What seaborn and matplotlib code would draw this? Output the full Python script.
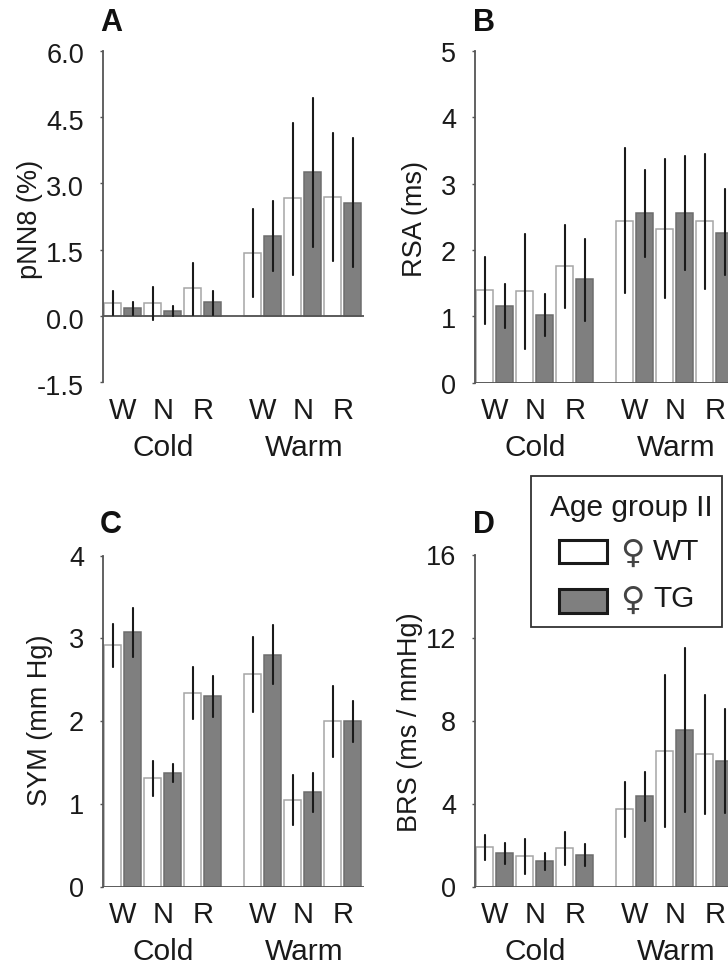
# four panel bar chart - cold vs warm, WT vs TG

import pandas as pd
import matplotlib
matplotlib.use('Agg')
import matplotlib.pyplot as plt
from matplotlib.patches import Rectangle
from matplotlib.transforms import ScaledTranslation
import seaborn as sns

sns.set_theme(style='white')
plt.rcParams['font.family'] = ['Liberation Sans', 'DejaVu Sans']
plt.rcParams['axes.unicode_minus'] = False

# order of every array: cold W/N/R then warm W/N/R, WT and TG alternating
stages = ['W', 'N', 'R', 'W', 'N', 'R']
genotypes = ['WT', 'TG']

pnn8_mean = [0.30, 0.18, 0.29, 0.11, 0.63, 0.31, 1.43, 1.82, 2.66, 3.26, 2.70, 2.56]
pnn8_hi = [0.57, 0.32, 0.66, 0.23, 1.19, 0.57, 2.43, 2.61, 4.37, 4.94, 4.13, 4.03]
pnn8_lo = [0.02, 0.03, -0.09, -0.01, 0.03, 0.03, 0.44, 1.02, 0.93, 1.57, 1.25, 1.10]

rsa_mean = [1.40, 1.15, 1.38, 1.02, 1.76, 1.56, 2.44, 2.56, 2.32, 2.56, 2.43, 2.26]
rsa_hi = [1.89, 1.49, 2.24, 1.33, 2.38, 2.17, 3.53, 3.21, 3.37, 3.41, 3.45, 2.92]
rsa_lo = [0.88, 0.82, 0.51, 0.71, 1.12, 0.93, 1.35, 1.90, 1.27, 1.70, 1.41, 1.62]

sym_mean = [2.92, 3.08, 1.31, 1.37, 2.34, 2.30, 2.57, 2.80, 1.05, 1.14, 2.00, 2.00]
sym_hi = [3.17, 3.37, 1.52, 1.48, 2.65, 2.55, 3.02, 3.16, 1.35, 1.38, 2.43, 2.25]
sym_lo = [2.66, 2.78, 1.10, 1.27, 2.03, 2.05, 2.11, 2.45, 0.75, 0.90, 1.57, 1.75]

brs_mean = [1.91, 1.61, 1.46, 1.22, 1.87, 1.53, 3.73, 4.36, 6.56, 7.57, 6.38, 6.08]
brs_hi = [2.49, 2.11, 2.28, 1.61, 2.65, 2.04, 5.07, 5.53, 10.23, 11.50, 9.26, 8.55]
brs_lo = [1.29, 1.11, 0.59, 0.82, 1.05, 1.00, 2.40, 3.18, 2.88, 3.62, 3.49, 3.57]

pnn8_ticks = [-1.5, 0.0, 1.5, 3.0, 4.5, 6.0]
rsa_ticks = [0, 1, 2, 3, 4, 5]
sym_ticks = [0, 1, 2, 3, 4]
brs_ticks = [0, 4, 8, 12, 16]

W, H = 728, 967
GRAY = '#7f7f7f'
DARK = '#555555'
INK = '#1a1a1a'

# one slot per bar, one empty slot between cold and warm
slots = [f'{i}-{g}' for i in range(3) for g in genotypes] + ['gap'] + \
        [f'{i}-{g}' for i in range(3, 6) for g in genotypes]
bar_slots = [s for s in slots if s != 'gap']


def panel(rect, mean, hi, lo, ticks, fmt, ylabel, letter, letter_xy, label_xy, num_shift):
    left, top, right, bottom = rect
    fig_rect = [left / W, 1 - bottom / H, (right - left) / W, (bottom - top) / H]
    ax = fig.add_axes(fig_rect, facecolor='none')

    df = pd.DataFrame({'slot': bar_slots, 'value': mean,
                       'group': [s.split('-')[1] for s in bar_slots]})
    sns.barplot(data=df, x='slot', y='value', hue='group', order=slots,
                hue_order=genotypes, palette={'WT': 'white', 'TG': GRAY},
                dodge=False, width=0.83, saturation=1, errorbar=None,
                legend=False, ax=ax)
    for cont, edge in zip(ax.containers, ['#a6a6a6', '#6e6e6e']):
        for bar in cont:
            bar.set_edgecolor(edge)
            bar.set_linewidth(1.1)

    xpos = [slots.index(s) for s in bar_slots]
    yerr = [[m - l for m, l in zip(mean, lo)], [h - m for m, h in zip(mean, hi)]]
    ax.errorbar(xpos, mean, yerr=yerr, fmt='none', ecolor='#1a1a1a',
                elinewidth=1.5, capsize=1, capthick=1.2, zorder=5)

    ax.set_xlim(-0.5, -0.5 + (right - left) / 20)
    ax.set_ylim(ticks[0], ticks[-1])
    ax.axhline(0, color=DARK, lw=1.3, zorder=4)

    # stage labels sit in the middle of each WT/TG pair
    centres = [(slots.index(f'{i}-WT') + slots.index(f'{i}-TG')) / 2 for i in range(6)]
    ax.set_xticks(centres)
    ax.set_xticklabels(stages, fontsize=21, color=INK)
    ax.set_yticks(ticks)
    ax.set_yticklabels([fmt % t for t in ticks], fontsize=19.5, color=INK)
    ax.tick_params(axis='x', length=0, pad=10.5)
    ax.tick_params(axis='y', length=2.5, width=1, color=DARK, pad=11, left=True)
    ax.set_xlabel('')
    ax.set_ylabel('')

    # y numbers sit a little below their ticks in the top panels of the original
    shift = ScaledTranslation(0, -num_shift / 72, fig.dpi_scale_trans)
    for lab in ax.get_yticklabels():
        lab.set_transform(lab.get_transform() + shift)

    for side in ['top', 'right', 'bottom']:
        ax.spines[side].set_visible(False)
    ax.spines['left'].set_color(DARK)
    ax.spines['left'].set_linewidth(1.3)

    # Cold / Warm below the stage letters
    for name, c in [('Cold', centres[1]), ('Warm', centres[4] + 0.05)]:
        ax.annotate(name, xy=(c, 0), xycoords=('data', 'axes fraction'),
                    xytext=(0, -47), textcoords='offset points',
                    ha='center', va='center', fontsize=21.5, color=INK)

    fig.text(label_xy[0] / W, 1 - label_xy[1] / H, ylabel, rotation=90,
             ha='center', va='center', fontsize=19.5, color=INK)
    fig.text(letter_xy[0] / W, 1 - letter_xy[1] / H, letter, fontsize=22,
             fontweight='bold', color='#111111', ha='left', va='baseline')
    return ax


fig = plt.figure(figsize=(W / 100, H / 100), dpi=100, facecolor='white')

panel((102.7, 50.7, 364, 382.3), pnn8_mean, pnn8_hi, pnn8_lo, pnn8_ticks, '%.1f',
      'pNN8 (%)', 'A', (100, 31), (30, 219), 2)
panel((474.7, 50.7, 728, 382.7), rsa_mean, rsa_hi, rsa_lo, rsa_ticks, '%d',
      'RSA (ms)', 'B', (473, 31), (415, 219), 1)
panel((102.7, 555.7, 364, 886.7), sym_mean, sym_hi, sym_lo, sym_ticks, '%d',
      'SYM (mm Hg)', 'C', (100, 533), (40, 720), 0)
panel((474.7, 555.0, 728, 886.7), brs_mean, brs_hi, brs_lo, brs_ticks, '%d',
      'BRS (ms / mmHg)', 'D', (473, 533), (410, 722), 0)


# legend box, placed by hand in pixels like the rest of the layout
def box(x0, y0, x1, y1, face, edge, lw):
    fig.add_artist(Rectangle((x0 / W, 1 - y1 / H), (x1 - x0) / W, (y1 - y0) / H,
                             transform=fig.transFigure, facecolor=face,
                             edgecolor=edge, linewidth=lw))


box(531, 476, 722, 627, 'white', '#333333', 1.3)
fig.text(631 / W, 1 - 508 / H, 'Age group II', fontsize=21.5, ha='center', va='center', color=INK)
box(559, 540, 607, 563, 'white', '#1a1a1a', 2.2)
box(559, 589, 607, 613, GRAY, '#1a1a1a', 2.2)
for y, name in [(552, genotypes[0]), (599, genotypes[1])]:
    fig.text(632 / W, 1 - (y + 1) / H, '\u2640', family='DejaVu Sans', fontsize=24,
             ha='center', va='center', color='#444444')
    fig.text(653 / W, 1 - y / H, name, fontsize=21.5, ha='left', va='center', color=INK)

plt.savefig('out.png', dpi=100)
